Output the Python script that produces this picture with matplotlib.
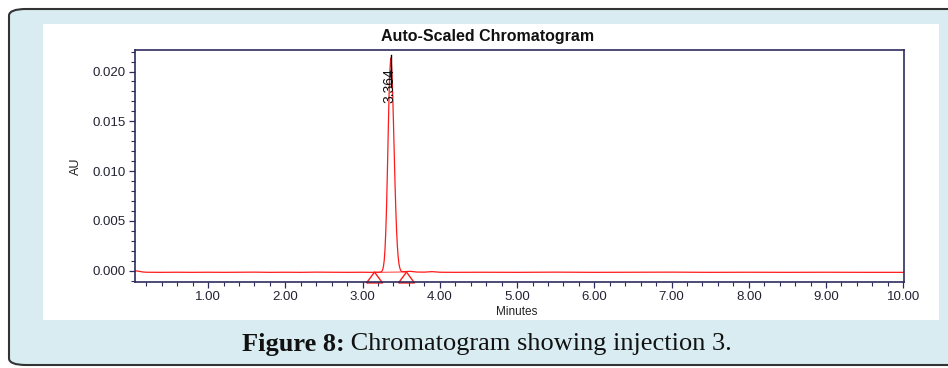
import matplotlib
matplotlib.use('Agg')
import matplotlib.pyplot as plt
from matplotlib.patches import FancyBboxPatch, Rectangle
from matplotlib.ticker import MultipleLocator, FormatStrFormatter

# chromatogram trace (minutes, AU)
base_time = [0.05, 0.10, 0.15, 0.20, 0.40, 0.60, 0.80, 1.00, 1.20, 1.40, 1.60, 1.80,
             2.00, 2.20, 2.40, 2.60, 2.80, 3.00, 3.10, 3.20, 3.24]
base_au = [0.00000, -0.00005, -0.00012, -0.00015, -0.00016, -0.00015, -0.00016, -0.00015,
           -0.00016, -0.00015, -0.00014, -0.00016, -0.00015, -0.00016, -0.00014, -0.00015,
           -0.00016, -0.00015, -0.00016, -0.00015, -0.00012]
peak_time = [3.25, 3.26, 3.27, 3.28, 3.29, 3.30, 3.31, 3.32, 3.33, 3.34, 3.35, 3.364,
             3.37, 3.38, 3.39, 3.40, 3.41, 3.42, 3.43, 3.44, 3.45, 3.46, 3.47, 3.48,
             3.49, 3.50, 3.52]
peak_au = [-0.00005, 0.00011, 0.00043, 0.00105, 0.00215, 0.00389, 0.00639, 0.00961,
           0.01325, 0.01685, 0.01970, 0.02135, 0.02115, 0.01985, 0.01760, 0.01475,
           0.01165, 0.00869, 0.00610, 0.00404, 0.00249, 0.00143, 0.00074, 0.00032,
           0.00009, -0.00005, -0.00010]
tail_time = [3.56, 3.62, 3.70, 3.80, 3.90, 4.00, 4.20, 4.50, 5.00, 5.50, 6.00, 6.50,
             7.00, 7.50, 8.00, 8.50, 9.00, 9.50, 10.00, 10.02]
tail_au = [-0.00008, -0.00006, -0.00013, -0.00014, -0.00009, -0.00015, -0.00016, -0.00015,
           -0.00016, -0.00014, -0.00016, -0.00015, -0.00014, -0.00016, -0.00015, -0.00016,
           -0.00015, -0.00016, -0.00016, -0.00016]

peak_rt = 3.364
peak_label = '3.364'
start_end_time = [3.15, 3.56]
start_end_au = [-0.00016, -0.00012]

trace_time = base_time + peak_time + tail_time
trace_au = base_au + peak_au + tail_au

fig = plt.figure(figsize=(9.48, 3.68), dpi=100)
W, H = 948.0, 368.0

# light blue rounded frame (runs off the right edge) and white panel
fig.patches.append(FancyBboxPatch((9 / W, 3 / H), 1000 / W, 356 / H,
                                  boxstyle='round,pad=0,rounding_size=0.018',
                                  transform=fig.transFigure, facecolor='#d8ecf1',
                                  edgecolor='#333333', linewidth=1.5, zorder=0,
                                  mutation_aspect=H / W * 2.6))
fig.patches.append(Rectangle((43 / W, 1 - 320 / H), 896 / W, 296 / H,
                             transform=fig.transFigure, facecolor='white',
                             edgecolor='none', zorder=1))

ax = fig.add_axes([135 / W, 1 - 282 / H, 769 / W, 232 / H])
ax.set_facecolor('white')
ax.set_zorder(2)

ax.plot(trace_time, trace_au, color='#ff1a1a', linewidth=0.9)
ax.plot(start_end_time, start_end_au, color='#ff1a1a', linewidth=0.6)
# flat peak start/end triangles
tri = [(-1, -0.68), (1, -0.68), (0, 0.68), (-1, -0.68)]
ax.plot(start_end_time, [-0.00064, -0.00064], linestyle='none', marker=tri,
        markersize=11.5, markerfacecolor='none', markeredgecolor='#ff1a1a',
        markeredgewidth=1.0, clip_on=False)
ax.plot([peak_rt, peak_rt], [0.0185, 0.02166], color='black', linewidth=1.0)
ax.text(peak_rt - 0.018, 0.01855, peak_label, rotation=90, ha='center', va='center',
        fontsize=10, family='Liberation Sans', color='#111111')

ax.set_xlim(0.053, 10.01)
ax.set_ylim(-0.00113, 0.02216)
ax.xaxis.set_major_locator(MultipleLocator(1.0))
ax.xaxis.set_minor_locator(MultipleLocator(0.2))
ax.yaxis.set_major_locator(MultipleLocator(0.005))
ax.yaxis.set_minor_locator(MultipleLocator(0.001))
ax.xaxis.set_major_formatter(FormatStrFormatter('%.2f'))
ax.yaxis.set_major_formatter(FormatStrFormatter('%.3f'))

for s in ax.spines.values():
    s.set_color('#2c2c5c')
    s.set_linewidth(1.2)
ax.tick_params(which='major', length=4.5, width=0.9, color='#2c2c5c',
               labelsize=9.5, labelcolor='#222233', pad=2)
ax.tick_params(which='minor', length=3, width=0.8, color='#2c2c5c')
for lab in ax.get_xticklabels() + ax.get_yticklabels():
    lab.set_family('Liberation Sans')

ax.set_ylabel('AU', fontsize=9, family='Liberation Sans', color='#222222', labelpad=8)
fig.text(517 / W, 1 - 312 / H, 'Minutes', fontsize=8.5, family='Liberation Sans',
         ha='center', va='center', color='#222222')
fig.text(488 / W, 1 - 37 / H, 'Auto-Scaled Chromatogram', fontsize=11.5,
         family='Liberation Sans', weight='bold', ha='center', va='center',
         color='#111111')

# caption: bold "Figure 8:" followed by regular text
cap_y = 1 - 344 / H
t1 = fig.text(0, cap_y, 'Figure 8:', fontsize=19, family='Liberation Serif',
              weight='bold', ha='left', va='center', color='#111111')
t2 = fig.text(0, cap_y, ' Chromatogram showing injection 3.', fontsize=19,
              family='Liberation Serif', ha='left', va='center', color='#111111')
fig.canvas.draw()
r = fig.canvas.get_renderer()
w1 = t1.get_window_extent(r).width
w2 = t2.get_window_extent(r).width
x0 = 487 - (w1 + w2) / 2
t1.set_x(x0 / W)
t2.set_x((x0 + w1) / W)

fig.savefig('out.png', dpi=100)
